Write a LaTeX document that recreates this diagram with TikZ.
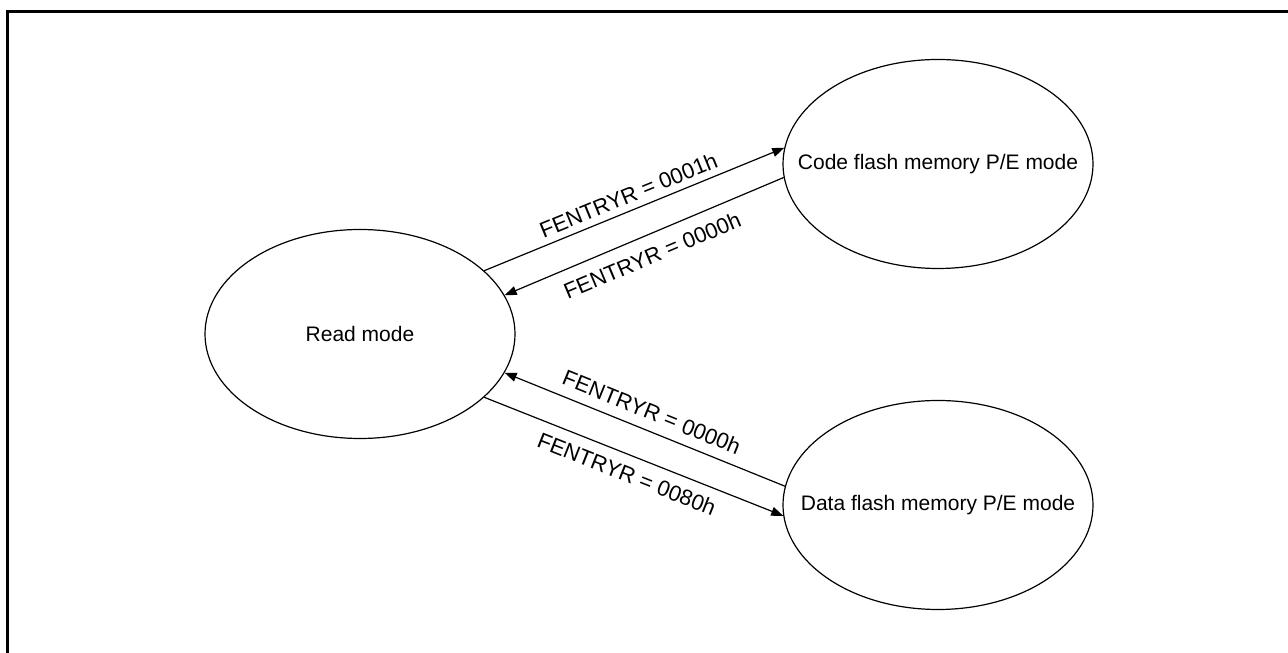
\documentclass[tikz,border=0pt]{standalone}
\usepackage{fontspec}
\setmainfont{Liberation Sans}
\usetikzlibrary{shapes.geometric,arrows.meta}
\tikzset{
  state/.style={draw=black, line width=1.2pt, ellipse, inner ysep=0pt, inner xsep=-50pt,
    minimum width=310pt, minimum height=209pt,
    font=\fontsize{21}{25}\selectfont},
  arr/.style={draw=black, line width=1.2pt, -{Triangle[length=12pt,width=9pt]}},
  lbl/.style={sloped, inner sep=0pt, pos=0.5, font=\fontsize{22}{26}\selectfont},
  frame/.style={draw=black, line width=2.7pt}
}
\begin{document}
\begin{tikzpicture}[x=1pt,y=1pt]
\useasboundingbox (0,0) rectangle (1288,653);
\coordinate (fa) at (7.3,0);
\coordinate (fb) at (7.3,641.7);
\coordinate (fc) at (1290,641.7);
\draw[frame] (fa) -- (fb) -- (fc);
\node[state] (read) at (360,319) {Read mode};
\node[state] (code) at (938,489) {Code flash memory P/E mode};
\node[state] (data) at (938,148) {Data flash memory P/E mode};
\draw[arr] (read.27.4) -- node[lbl, above=6.5pt] (l1) {FENTRYR = 0001h} (code.174.5);
\draw[arr] (code.185.2) -- node[lbl, below=12pt] (l2) {FENTRYR = 0000h} (read.15.05);
\draw[arr] (data.173.3) -- node[lbl, above=10pt] (l3) {FENTRYR = 0000h} (read.-15.4);
\draw[arr] (read.-27.06) -- node[lbl, below=10pt] (l4) {FENTRYR = 0080h} (data.184.5);
\end{tikzpicture}
\end{document}
